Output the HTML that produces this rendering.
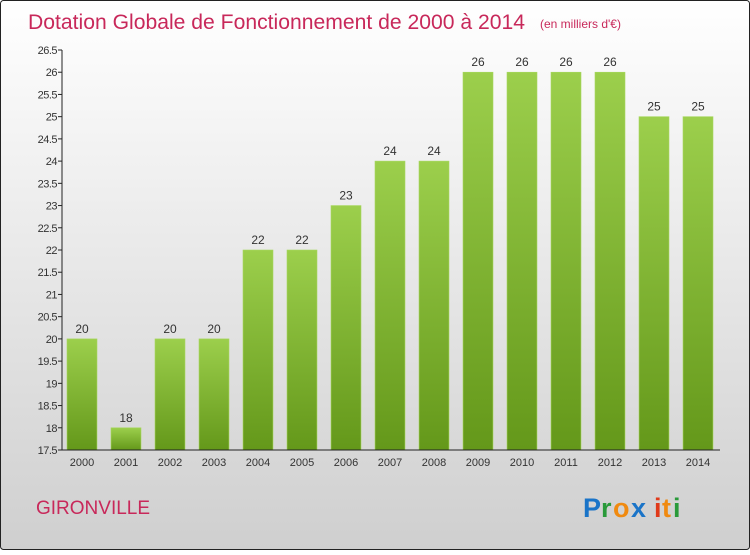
<!DOCTYPE html>
<html><head><meta charset="utf-8"><style>
html,body{margin:0;padding:0}
body{width:750px;height:550px;overflow:hidden;font-family:"Liberation Sans",sans-serif}
</style></head><body>
<svg id="chart" width="750" height="550" xmlns="http://www.w3.org/2000/svg">
<defs>
<linearGradient id="bg" x1="0" y1="0" x2="0" y2="1"><stop offset="0" stop-color="#ffffff"/><stop offset="1" stop-color="#cfcfcf"/></linearGradient>
<linearGradient id="bar" x1="0" y1="0" x2="0" y2="1"><stop offset="0" stop-color="#9ccf4c"/><stop offset="1" stop-color="#64981a"/></linearGradient>
</defs>
<rect x="0.5" y="0.5" width="749" height="549" rx="3" fill="url(#bg)" stroke="#222"/>
<text x="28" y="29" font-size="21" fill="#c8285a" textLength="497" lengthAdjust="spacingAndGlyphs">Dotation Globale de Fonctionnement de 2000 à 2014</text>
<text x="540" y="28" font-size="12" fill="#c8285a">(en milliers d'€)</text>
<text x="36" y="514" font-size="19" fill="#c8285a">GIRONVILLE</text>
<g font-size="27" font-weight="bold">
<text x="583" y="517" fill="#1a74c8">P</text><text x="601" y="517" fill="#2a9a3a">r</text><text x="613" y="517" fill="#f08a10">o</text><text x="631" y="517" fill="#1a74c8">x</text><text x="654" y="517" fill="#e03a1a">i</text><text x="662" y="517" fill="#f08a10">t</text><text x="673" y="517" fill="#2a9a3a">i</text>
</g>
<g id="plot"></g>
</svg>
<script>
const years=["2000","2001","2002","2003","2004","2005","2006","2007","2008","2009","2010","2011","2012","2013","2014"];
const values=[20,18,20,20,22,22,23,24,24,26,26,26,26,25,25];
const yTicks=[17.5,18,18.5,19,19.5,20,20.5,21,21.5,22,22.5,23,23.5,24,24.5,25,25.5,26,26.5];
const NS="http://www.w3.org/2000/svg";
const g=document.getElementById('plot');
const y=v=>450-(v-17.5)*(400/9);
const x=i=>67+i*44;
function el(t,a,txt){const e=document.createElementNS(NS,t);for(const k in a)e.setAttribute(k,a[k]);if(txt!==undefined)e.textContent=txt;g.appendChild(e);return e;}
values.forEach((v,i)=>{
 const r=el('rect',{x:x(i),y:y(v),width:30,height:450-y(v),fill:'url(#bar)',stroke:'#a8d860','stroke-width':0.6});
 
 
 const t=el('text',{x:x(i)+15,y:y(v)-6,'text-anchor':'middle','font-size':12,fill:'#333'},String(v));
 
 
 const xl=el('text',{x:x(i)+15,y:466,'text-anchor':'middle','font-size':11,fill:'#333'},years[i]);
 
 
});
yTicks.forEach(v=>{
 const tk=el('line',{x1:58,x2:62,y1:y(v),y2:y(v),stroke:'#222'});
 
 
 const tl=el('text',{x:57,y:y(v)+4,'text-anchor':'end','font-size':11,fill:'#333','letter-spacing':'-0.5'},String(v));
 
 
});
const ya=el('line',{x1:62,x2:62,y1:y(26.5),y2:450,stroke:'#222'});


const xa=el('line',{x1:62,x2:720,y1:450,y2:450,stroke:'#222'});


</script>
</body></html>
